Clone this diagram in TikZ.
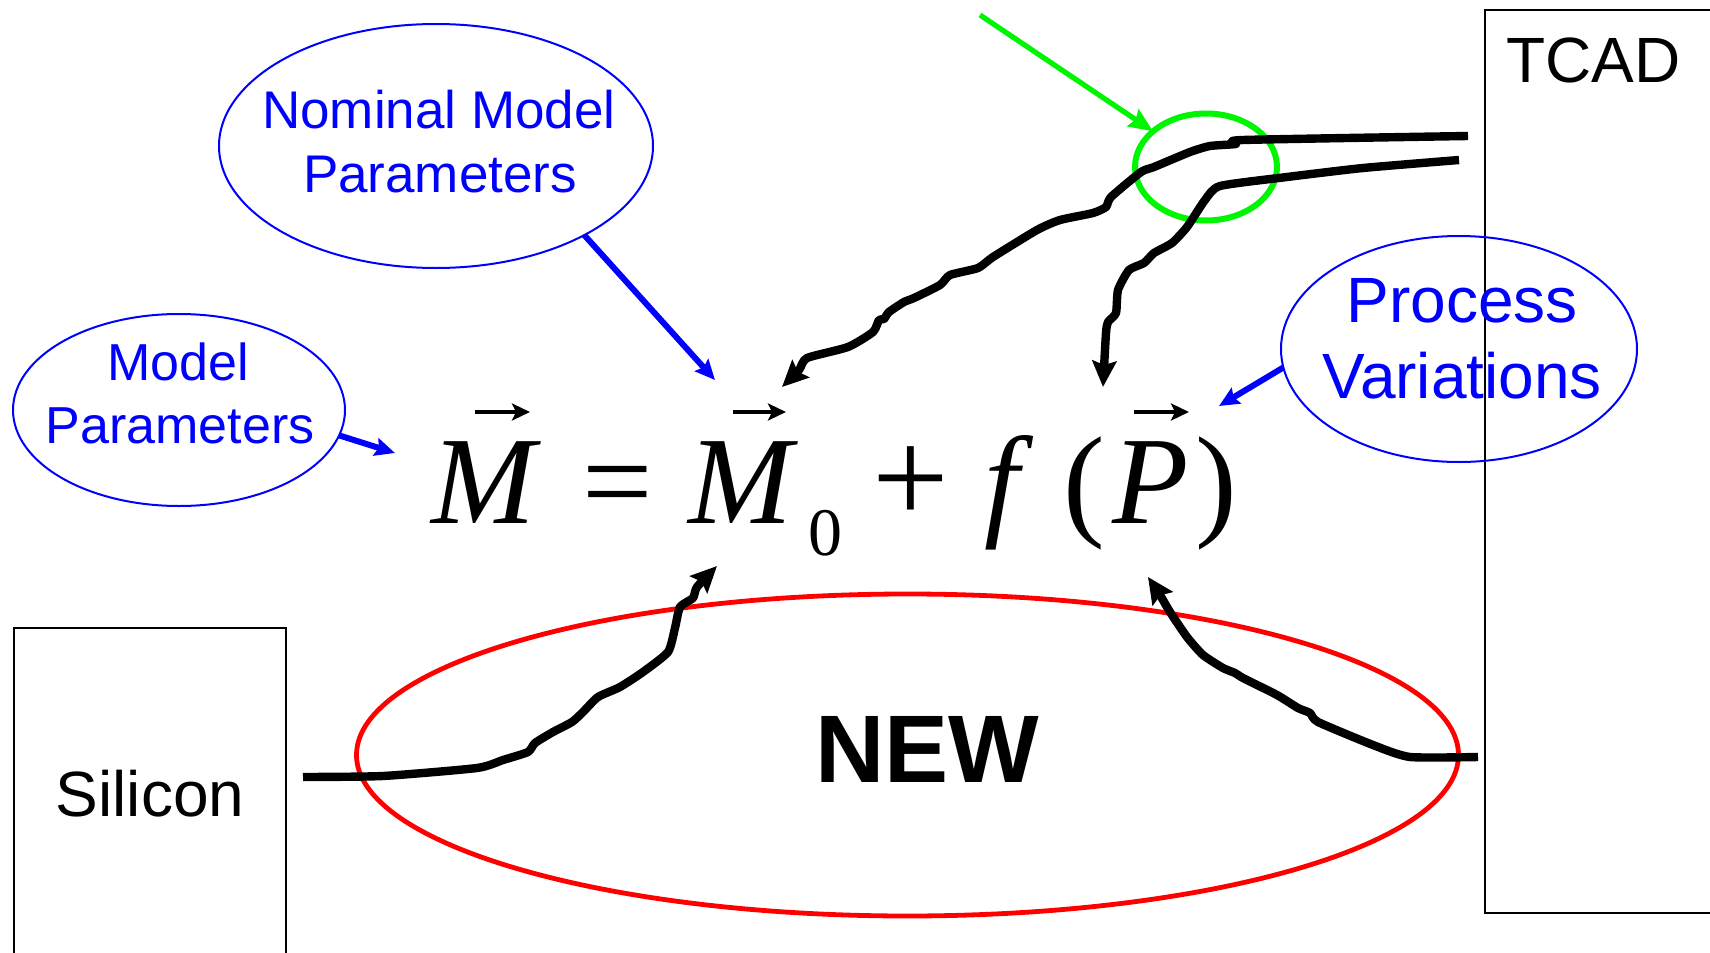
\documentclass[tikz,border=0pt]{standalone}
\usepackage{fontspec}
\setmainfont{Liberation Sans}
\newfontfamily\eqfont{Liberation Serif}
\usetikzlibrary{arrows.meta,shapes.geometric}
\definecolor{pureblue}{RGB}{0,0,255}
\definecolor{purered}{RGB}{255,0,0}
\definecolor{puregreen}{RGB}{0,245,0}
\begin{document}
\begin{tikzpicture}[x=0.5pt,y=-0.5pt,
  every node/.style={inner sep=0pt, outer sep=0pt},
  bluebubble/.style={ellipse, draw=pureblue, line width=1pt},
  bluetext/.style={text=pureblue, anchor=base},
  bluearrow/.style={draw=pureblue, line width=3pt, -{Stealth[length=10pt,width=9pt,inset=1.5pt]}},
  thickcurve/.style={line width=4.2pt, line join=round, -{Stealth[length=13pt,width=12pt,inset=2pt]}},
  vecarrow/.style={line width=2pt, -{Stealth[length=9pt,width=8.5pt,inset=2pt]}},
  eqrm/.style={anchor=base west, font=\eqfont\fontsize{62.5}{70}\selectfont},
  eqit/.style={anchor=base west, font=\eqfont\itshape\fontsize{62.5}{70}\selectfont},
  eqsub/.style={anchor=base west, font=\eqfont\fontsize{34}{40}\selectfont},
]
\path[use as bounding box, fill=white] (0,0) rectangle (1710,953);

% boxes
\node[draw, line width=1.2pt, minimum width=120pt, minimum height=451.5pt, anchor=north west] (tcad) at (1485,10) {};
\node[anchor=base west, font=\fontsize{32}{38}\selectfont] (tcadlabel) at (1506,83) {TCAD};
\node[draw, line width=0.8pt, minimum width=136pt, minimum height=172pt, anchor=north west] (silicon) at (14,628) {};
\node[anchor=base, font=\fontsize{32}{38}\selectfont] (siliconlabel) at (150,816) {Silicon};

% red ellipse
\node[ellipse, draw=purered, line width=2.4pt, minimum width=551pt, minimum height=161pt] (newell) at (907.5,755) {};
\node[anchor=base, font=\bfseries\fontsize{48}{56}\selectfont] (newlabel) at (927,782) {NEW};

% green circle and arrow
\node[ellipse, draw=puregreen, line width=3pt, minimum width=71pt, minimum height=53.5pt] (green) at (1206,167) {};
\coordinate (greenstart) at (980,15);
\draw[draw=puregreen, line width=2.6pt, -{Stealth[length=12pt,width=10pt,inset=1.5pt]}] (greenstart) -- (green.146);

% blue bubbles
\node[bluebubble, minimum width=217pt, minimum height=122pt] (nominal) at (436,146) {};
\node[bluetext, font=\fontsize{26.5}{32}\selectfont] (nomA) at (439,128) {Nominal Model};
\node[bluetext, font=\fontsize{26.5}{32}\selectfont] (nomB) at (440,192) {Parameters};
\node[bluebubble, minimum width=166pt, minimum height=96pt] (model) at (179,410) {};
\node[bluetext, font=\fontsize{26}{32}\selectfont] (modA) at (178,380) {Model};
\node[bluetext, font=\fontsize{26}{32}\selectfont] (modB) at (180,443) {Parameters};
\node[bluebubble, minimum width=178pt, minimum height=113pt] (proc) at (1459,349) {};
\node[bluetext, font=\fontsize{32}{38}\selectfont] (procA) at (1462,322) {Process};
\node[bluetext, font=\fontsize{32}{38}\selectfont] (procB) at (1462,398) {Variations};

% equation
\node[eqit] (eqM) at (431,523) {M};
\node[eqrm] (eqEq) at (582,523) {=};
\node[eqit] (eqMo) at (688,523) {M};
\node[eqsub] (eqSub) at (808,555) {0};
\node[eqrm, font=\eqfont\fontsize{68}{74}\selectfont] (eqPlus) at (872,523) {+};
\node[eqit] (eqF) at (984,523) {f};
\node[eqrm] (eqLP) at (1063,523) {(};
\node[eqit] (eqP) at (1112,523) {P};
\node[eqrm] (eqRP) at (1195,523) {)};
\draw[vecarrow] (475,412) -- (530,412);
\draw[vecarrow] (733,412) -- (786,412);
\draw[vecarrow] (1134,412) -- (1189,412);

% blue arrows
\coordinate (tipNom) at (715,380);
\coordinate (tipMod) at (395,453);
\coordinate (tipProc) at (1219,406);
\draw[bluearrow] (nominal.-31) -- (tipNom);
\draw[bluearrow] (model.-9) -- (tipMod);
\draw[bluearrow] (proc.186) -- (tipProc);

% black curves
\coordinate (tcadA) at (1468,136);
\coordinate (tcadB) at (1459,160);
\coordinate (silA) at (303,777);
\coordinate (tcadC) at (1478,757);
\coordinate (tipA) at (782,387);
\coordinate (tipB) at (1103,387);
\coordinate (tipC) at (717,566);
\coordinate (tipD) at (1148,577);

\draw[thickcurve] plot[smooth, tension=0.35] coordinates {(tcadA) (1243,140) (1236,144) (1210,146) (1190,152) (1154,167) (1141,172) (1111,197) (1106,207) (1093,213) (1060,220) (1037,230) (993,257) (978,268) (950,275) (940,285) (914,298) (904,302) (889,312) (884,319) (879,320) (873,332) (848,347) (807,358) (799,370) (tipA)};
\draw[thickcurve] plot[smooth, tension=0.35] coordinates {(tcadB) (1363,168) (1287,177) (1220,186) (1205,200) (1187,227) (1172,243) (1154,253) (1144,263) (1129,270) (1118,290) (1116,313) (1108,322) (1106,333) (tipB)};
\draw[thickcurve] plot[smooth, tension=0.35] coordinates {(silA) (383,776) (477,768) (503,760) (528,752) (535,743) (553,732) (572,722) (583,712) (598,697) (620,687) (643,672) (668,652) (675,628) (680,607) (693,598) (697,587) (tipC)};
\draw[thickcurve] plot[smooth, tension=0.35] coordinates {(tcadC) (1410,757) (1373,745) (1318,722) (1310,713) (1298,708) (1277,695) (1243,678) (1235,673) (1223,668) (1203,655) (1187,637) (1170,612) (1160,595) (tipD)};
\end{tikzpicture}
\end{document}
